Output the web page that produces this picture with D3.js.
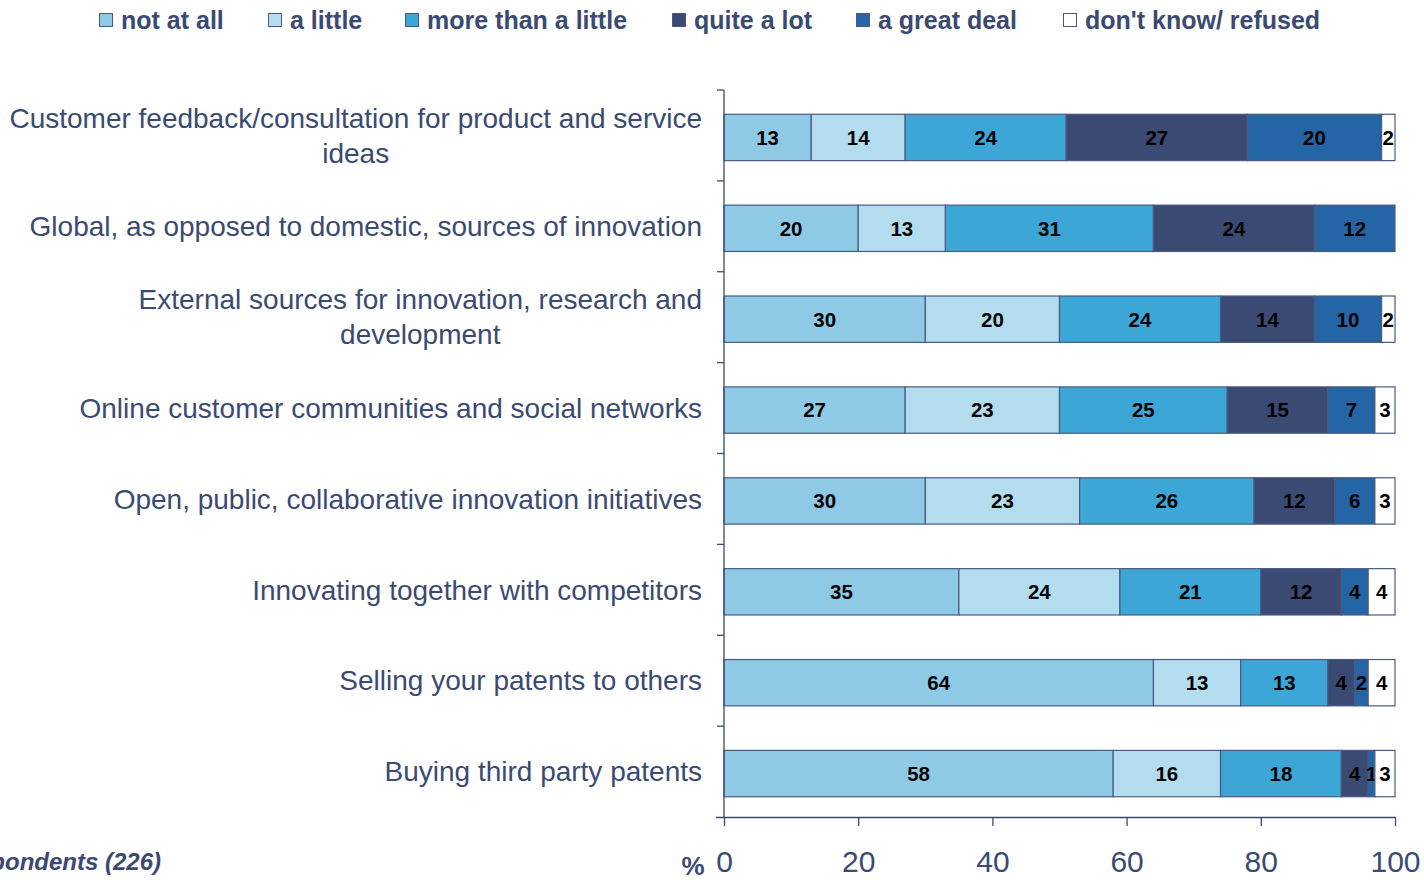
<!DOCTYPE html>
<html>
<head>
<meta charset="utf-8">
<script src="https://cdn.jsdelivr.net/npm/d3@7"></script>
<style>
  html, body { margin: 0; padding: 0; background: #fff; }
  svg { display: block; font-family: "Liberation Sans", Arial, sans-serif; }
</style>
</head>
<body>
<svg id="chart" width="1424" height="880"></svg>
<script>
// Survey items (each label line is drawn as a separate tspan)
const categories = [
  ["Customer feedback/consultation for product and service", "ideas"],
  ["Global, as opposed to domestic, sources of innovation"],
  ["External sources for innovation, research and", "development"],
  ["Online customer communities and social networks"],
  ["Open, public, collaborative innovation initiatives"],
  ["Innovating together with competitors"],
  ["Selling your patents to others"],
  ["Buying third party patents"]
];
const seriesNames = ["not at all", "a little", "more than a little", "quite a lot", "a great deal", "don't know/ refused"];
const notAtAll      = [13, 20, 30, 27, 30, 35, 64, 58];
const aLittle       = [14, 13, 20, 23, 23, 24, 13, 16];
const moreThanLittle= [24, 31, 24, 25, 26, 21, 13, 18];
const quiteALot     = [27, 24, 14, 15, 12, 12, 4, 4];
const aGreatDeal    = [20, 12, 10, 7, 6, 4, 2, 1];
const dontKnow      = [2, 0, 2, 3, 3, 4, 4, 3];
const xTicks = [0, 20, 40, 60, 80, 100];
const baseNote = "Base: All respondents (226)";

const colors = ["#8ecae6", "#b3ddee", "#3ca7d6", "#3a4a73", "#2465a6", "#ffffff"];
const ink = "#3a4a73";

const seriesValues = [notAtAll, aLittle, moreThanLittle, quiteALot, aGreatDeal, dontKnow];
const rows = categories.map((c, i) => {
  const r = { idx: i };
  seriesNames.forEach((s, k) => r[s] = seriesValues[k][i]);
  return r;
});
const stacked = d3.stack().keys(seriesNames)(rows);

const svg = d3.select("#chart");
const x = d3.scaleLinear().domain([0, 100]).range([724, 1395]);
const y = d3.scaleBand().domain(d3.range(categories.length)).range([92, 819]).paddingInner(0.49).paddingOuter(0.245);
const band = d3.scaleBand().domain(d3.range(categories.length)).range([90, 817]);

// Bars
const layers = svg.append("g").selectAll("g").data(stacked).join("g")
  .attr("fill", (d, i) => colors[i]);
layers.selectAll("rect").data(d => d.filter(p => p[1] - p[0] > 0)).join("rect")
  .attr("x", d => x(d[0]))
  .attr("width", d => x(d[1]) - x(d[0]))
  .attr("y", d => y(d.data.idx))
  .attr("height", y.bandwidth())
  .attr("stroke", "#4a5a82")
  .attr("stroke-width", 1.2);

// Value labels
layers.selectAll("text").data(d => d.filter(p => p[1] - p[0] > 0)).join("text")
  .attr("x", d => (x(d[0]) + x(d[1])) / 2)
  .attr("y", d => y(d.data.idx) + y.bandwidth() / 2)
  .attr("dy", "0.36em")
  .attr("text-anchor", "middle")
  .attr("font-size", 20.5)
  .attr("font-weight", "bold")
  .attr("fill", "#000")
  .text(d => d[1] - d[0]);

// Y axis: line with ticks at band boundaries
const yAxis = svg.append("g").attr("stroke", ink).attr("stroke-width", 1.3);
yAxis.append("line").attr("x1", 724).attr("x2", 724).attr("y1", 90).attr("y2", 817);
yAxis.selectAll("line.tk").data(d3.range(categories.length)).join("line").attr("class", "tk")
  .attr("x1", 717).attr("x2", 724)
  .attr("y1", d => band(d)).attr("y2", d => band(d));

// X axis
const xAxis = svg.append("g").attr("transform", "translate(0,817)")
  .call(d3.axisBottom(x).tickValues(xTicks).tickSize(9).tickPadding(25).tickSizeOuter(0));
xAxis.select(".domain").attr("stroke", ink).attr("stroke-width", 1.3).attr("d", "M716,0.5H1395");
xAxis.selectAll(".tick line").attr("stroke", ink).attr("stroke-width", 1.3);
xAxis.selectAll(".tick text").attr("fill", ink).attr("font-size", 30)
  .attr("font-family", "'Liberation Sans', Arial, sans-serif");
svg.append("text").attr("x", 693).attr("y", 875).attr("text-anchor", "middle")
  .attr("font-size", 26).attr("font-weight", "bold").attr("fill", ink).text("%");

// Category labels: block right-aligned, lines centered within the block
const labelG = svg.append("g");
categories.forEach((lines, i) => {
  const cy = band(i) + band.bandwidth() / 2;
  const lh = 35;
  const t = labelG.append("text").attr("font-size", 28).attr("fill", ink).attr("text-anchor", "middle");
  lines.forEach((ln, j) => {
    t.append("tspan").attr("y", cy + (j - (lines.length - 1) / 2) * lh).attr("dy", "0.35em").text(ln);
  });
  const widths = t.selectAll("tspan").nodes().map(n => n.getComputedTextLength());
  const maxW = d3.max(widths);
  t.selectAll("tspan").attr("x", 702 - maxW / 2);
});

// Legend
const legendX = [99, 268, 405, 672, 856, 1063];
const legend = svg.append("g").selectAll("g").data(seriesNames).join("g")
  .attr("transform", (d, i) => `translate(${legendX[i]},0)`);
legend.append("rect").attr("x", 0.5).attr("y", 13.5).attr("width", 13).attr("height", 13)
  .attr("fill", (d, i) => colors[i]).attr("stroke", "#4a5a82").attr("stroke-width", 1);
legend.append("text").attr("x", 22).attr("y", 29).attr("font-size", 25).attr("font-weight", "bold")
  .attr("fill", ink).text(d => d);

// Base note
svg.append("text").attr("x", 161).attr("y", 870).attr("text-anchor", "end")
  .attr("font-size", 24).attr("font-weight", "bold").attr("font-style", "italic")
  .attr("fill", ink).text(baseNote);
</script>
</body>
</html>
